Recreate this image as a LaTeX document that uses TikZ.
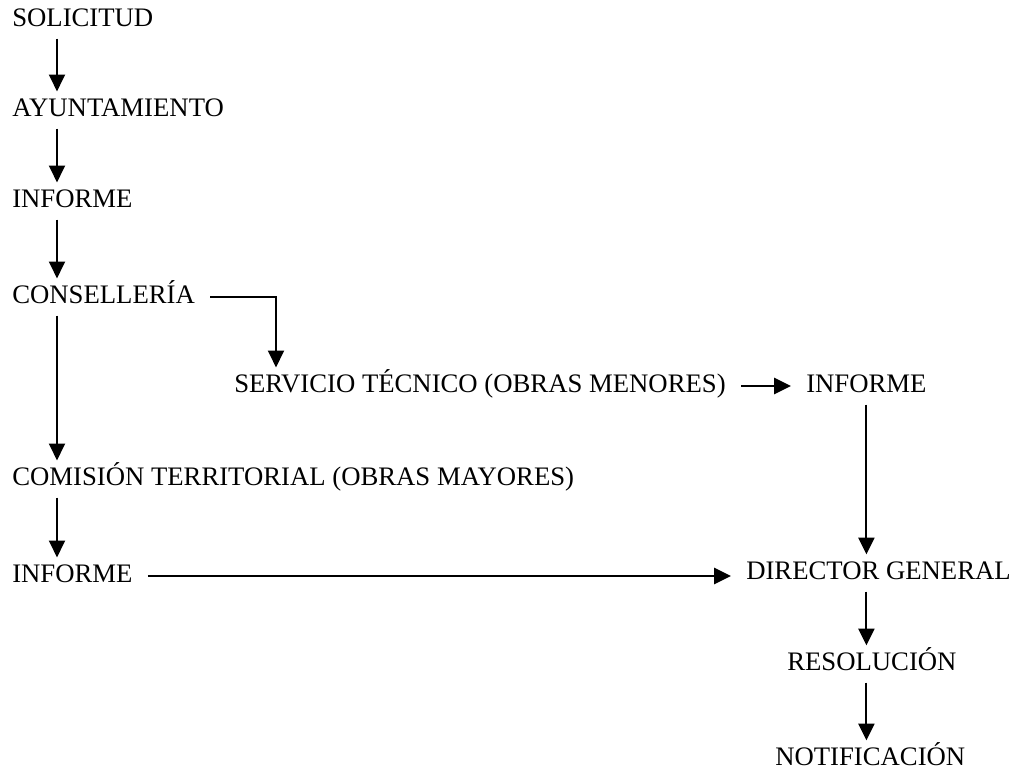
\documentclass[tikz,border=0pt]{standalone}
\usepackage{fontspec}
\setmainfont{Liberation Serif}
\usetikzlibrary{arrows.meta,positioning,calc}
\definecolor{Ink}{HTML}{000000}
\tikzset{
 step label/.style={anchor=west, inner xsep=0.375cm, inner ysep=0.3cm, text height=9pt, text depth=0pt, font=\fontsize{19pt}{22pt}\selectfont, text=Ink},
 arrow/.style={-{Triangle[width=0.4cm,length=0.42cm]}, line width=1.5pt, draw=Ink}
}
\begin{document}
\begin{tikzpicture}[x=0.025cm,y=-0.025cm]
\useasboundingbox (0,0) rectangle (1017,773);
\node[step label] (sol) at (-3,20) {SOLICITUD};
\node[step label] (ayu) at (-3,110) {AYUNTAMIENTO};
\node[step label] (inf1) at (-3,201) {INFORME};
\node[step label] (con) at (-3,297) {CONSELLERÍA};
\node[step label] (serv) at (219,386) {SERVICIO TÉCNICO (OBRAS MENORES)};
\node[step label] (inf2) at (791,386) {INFORME};
\node[step label] (com) at (-3,479) {COMISIÓN TERRITORIAL (OBRAS MAYORES)};
\node[step label] (inf3) at (-3,576) {INFORME};
\node[step label] (dir) at (731,573) {DIRECTOR GENERAL};
\node[step label] (res) at (772,664) {RESOLUCIÓN};
\node[step label] (notif) at (760,759) {NOTIFICACIÓN};
\coordinate (col) at (57,0);
\coordinate (bend) at (276,0);
\draw[arrow] (sol.south -| col) -- (ayu.north -| col);
\draw[arrow] (ayu.south -| col) -- (inf1.north -| col);
\draw[arrow] (inf1.south -| col) -- (con.north -| col);
\draw[arrow] (con.south -| col) -- (com.north -| col);
\draw[arrow] (com.south -| col) -- (inf3.north -| col);
\draw[arrow] (con.east) -| (serv.north -| bend);
\draw[arrow] (serv.east) -- (inf2.west);
\draw[arrow] (inf2.south) -- (inf2.south |- dir.north);
\draw[arrow] (inf3.east) -- (dir.west |- inf3.east);
\draw[arrow] (dir.south -| inf2.south) -- (res.north -| inf2.south);
\draw[arrow] (res.south -| inf2.south) -- (notif.north -| inf2.south);
\end{tikzpicture}
\end{document}
